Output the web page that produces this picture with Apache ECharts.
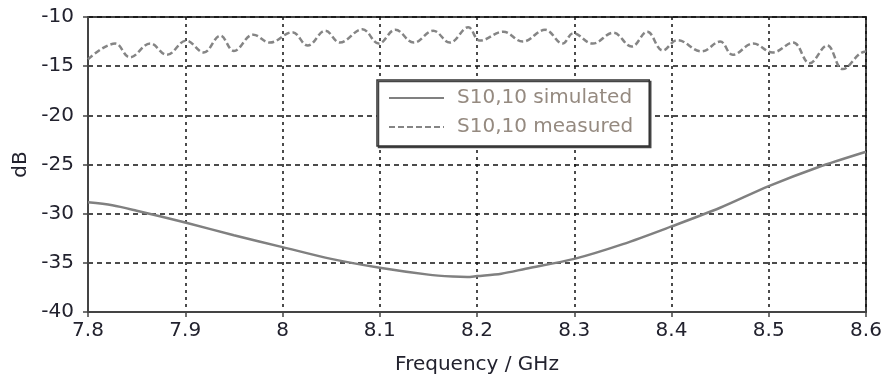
<!DOCTYPE html>
<html>
<head>
<meta charset="utf-8">
<script src="https://cdn.jsdelivr.net/npm/echarts@6/dist/echarts.min.js"></script>
<style>
    html, body { margin: 0; padding: 0; background: #fff; }
    #sChart { width: 885px; height: 380px; }
</style>
</head>
<body>
<div id="sChart"></div>
<script>
// simulated S10,10 (GHz, dB)
var simFreq = [7.8, 7.825, 7.85, 7.9, 7.95, 8.0, 8.05, 8.1, 8.15, 8.175, 8.19, 8.2, 8.225, 8.25, 8.3, 8.35, 8.4, 8.45, 8.5, 8.55, 8.6];
var simDb = [-28.85, -29.15, -29.7, -30.9, -32.2, -33.4, -34.6, -35.5, -36.2, -36.4, -36.45, -36.35, -36.1, -35.6, -34.6, -33.1, -31.3, -29.4, -27.2, -25.3, -23.7];

// measured S10,10
var measFreq = [7.8, 7.828, 7.843, 7.864, 7.881, 7.901, 7.919, 7.936, 7.95, 7.97, 7.987, 8.01, 8.026, 8.044, 8.059,
    8.082, 8.099, 8.116, 8.135, 8.155, 8.172, 8.191, 8.203, 8.227, 8.247, 8.27, 8.288, 8.299, 8.319,
    8.34, 8.359, 8.375, 8.391, 8.406, 8.431, 8.45, 8.463, 8.484, 8.504, 8.525, 8.542, 8.56, 8.576, 8.594, 8.6];
var measDb = [-14.3, -12.7, -14.1, -12.7, -13.85, -12.4, -13.6, -11.9, -13.45, -11.8, -12.6, -11.55, -12.9, -11.4, -12.6,
    -11.25, -12.7, -11.3, -12.6, -11.4, -12.6, -11.05, -12.4, -11.5, -12.5, -11.3, -12.7, -11.65, -12.7,
    -11.6, -13.0, -11.5, -13.4, -12.35, -13.5, -12.5, -13.85, -12.7, -13.6, -12.6, -14.7, -12.9, -15.3, -13.7, -13.5];

var seriesNames = ['S10,10 simulated', 'S10,10 measured'];

function pairs(xs, ys) {
    var out = [];
    for (var i = 0; i < xs.length; i++) {
        out.push([xs[i], ys[i]]);
    }
    return out;
}

var labelColor = '#22222e';

var option = {
    animation: false,
    backgroundColor: '#fff',
    textStyle: { fontFamily: 'DejaVu Sans' },
    grid: {
        left: 88, right: 19, top: 17, bottom: 67,
        show: true, borderColor: '#444', borderWidth: 2
    },
    legend: {
        data: seriesNames,
        orient: 'vertical',
        left: 377,
        top: 80,
        padding: [8, 16, 9, 11],
        itemWidth: 55,
        itemHeight: 14,
        itemGap: 9,
        backgroundColor: '#fff',
        borderColor: '#333',
        borderWidth: 1.5,
        shadowColor: '#444',
        shadowOffsetX: 1.5,
        shadowOffsetY: 1.5,
        shadowBlur: 0,
        itemStyle: { opacity: 0 },
        textStyle: {
            fontSize: 20,
            lineHeight: 20,
            color: '#958a80',
            padding: [0, 0, 0, 8]
        }
    },
    xAxis: {
        type: 'value',
        min: 7.8,
        max: 8.6,
        interval: 0.1,
        name: 'Frequency / GHz',
        nameLocation: 'middle',
        nameGap: 43,
        nameTextStyle: { fontSize: 20, color: labelColor },
        axisLine: { lineStyle: { color: '#444', width: 2 } },
        axisTick: { length: 5, lineStyle: { color: '#444', width: 1.5 } },
        axisLabel: {
            fontSize: 20, color: labelColor, margin: 9,
            formatter: function (v) { return parseFloat(v.toFixed(1)) + ''; }
        },
        splitLine: { show: true, lineStyle: { color: '#111', width: 1.5, type: [3, 4] } }
    },
    yAxis: {
        type: 'value',
        min: -40,
        max: -10,
        interval: 5,
        name: 'dB',
        nameLocation: 'middle',
        nameGap: 55,
        nameTextStyle: { fontSize: 20, color: labelColor },
        axisLine: { show: true, lineStyle: { color: '#444', width: 2 } },
        axisTick: { show: true, length: 5, lineStyle: { color: '#444', width: 1.5 } },
        axisLabel: { fontSize: 20, color: labelColor, margin: 14 },
        splitLine: { show: true, lineStyle: { color: '#111', width: 1.5, type: [5, 4] } }
    },
    series: [
        {
            name: seriesNames[0],
            type: 'line',
            data: pairs(simFreq, simDb),
            showSymbol: false,
            symbol: 'none',
            smooth: 0.3,
            lineStyle: { color: '#808080', width: 2.5 },
            itemStyle: { color: '#808080' }
        },
        {
            name: seriesNames[1],
            type: 'line',
            data: pairs(measFreq, measDb),
            showSymbol: false,
            symbol: 'none',
            smooth: 0.4,
            lineStyle: { color: '#858585', width: 2.5, type: [6, 3] },
            itemStyle: { color: '#858585' }
        }
    ]
};
var myChart = echarts.init(document.getElementById('sChart'));
myChart.setOption(option);
</script>
</body>
</html>
